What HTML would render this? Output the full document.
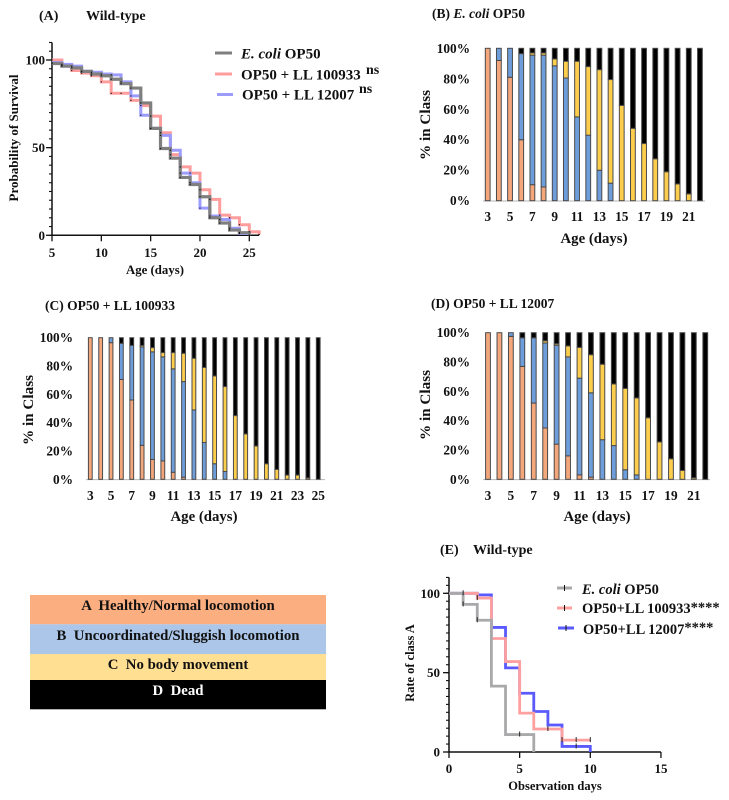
<!DOCTYPE html>
<html>
<head>
<meta charset="utf-8">
<title>C. elegans survival and locomotion class charts</title>
<style>
html,body{margin:0;padding:0;background:#fff;}
svg{display:block;filter:blur(0.35px);}
text{font-family:"Liberation Serif",serif;font-weight:bold;fill:#111;}
</style>
</head>
<body>
<svg id="figure" xmlns="http://www.w3.org/2000/svg" width="729" height="800" viewBox="0 0 729 800">
  <rect width="729" height="800" fill="#fff"/>

  <text x="39" y="20" font-size="14">(A)</text>
  <text x="86" y="20" font-size="14">Wild-type</text>
  <text x="432" y="18" font-size="13.500">(B) <tspan font-style="italic">E. coli</tspan> OP50</text>
  <text x="45" y="310" font-size="13.500">(C) OP50 + LL 100933</text>
  <text x="431" y="308" font-size="13.500">(D) OP50 + LL 12007</text>
  <text x="440" y="554" font-size="14">(E)</text>
  <text x="473" y="554" font-size="14">Wild-type</text>

  <text transform="translate(18,138) rotate(-90)" text-anchor="middle" font-size="13">Probability of Survival</text>
  <text x="155" y="274" text-anchor="middle" font-size="12.800">Age (days)</text>
  <text transform="translate(430,125) rotate(-90)" text-anchor="middle" font-size="15.200">% in Class</text>
  <text x="594" y="243" text-anchor="middle" font-size="14.800">Age (days)</text>
  <text transform="translate(33,410) rotate(-90)" text-anchor="middle" font-size="15.200">% in Class</text>
  <text x="204" y="521" text-anchor="middle" font-size="14.800">Age (days)</text>
  <text transform="translate(430,405) rotate(-90)" text-anchor="middle" font-size="15.200">% in Class</text>
  <text x="597" y="521" text-anchor="middle" font-size="14.800">Age (days)</text>
  <text transform="translate(414,663) rotate(-90)" text-anchor="middle" font-size="12.400">Rate of class A</text>
  <text x="555" y="790" text-anchor="middle" font-size="12.500">Observation days</text>

  <g>
    <line x1="215" x2="232" y1="53" y2="53" stroke="#7f7f7f" stroke-width="3"/>
    <text x="241" y="58.500" font-size="15"><tspan font-style="italic">E. coli</tspan> OP50</text>
    <line x1="215" x2="232" y1="74" y2="74" stroke="#ff9d9d" stroke-width="3"/>
    <text x="241" y="79.500" font-size="15">OP50 + LL 100933</text>
    <text x="366" y="74" font-size="14">ns</text>
    <line x1="217" x2="233" y1="94.500" y2="94.500" stroke="#9c9cff" stroke-width="3"/>
    <text x="242" y="99.500" font-size="15">OP50 + LL 12007</text>
    <text x="359" y="93" font-size="14">ns</text>
  </g>

  <g>
    <line x1="557" x2="572" y1="588" y2="588" stroke="#a9a9ab" stroke-width="3"/>
    <line x1="564.500" x2="564.500" y1="585" y2="591" stroke="#111" stroke-width="1"/>
    <text x="582" y="594" font-size="14.500"><tspan font-style="italic">E. coli</tspan> OP50</text>
    <line x1="557" x2="572" y1="608" y2="608" stroke="#ffa0a0" stroke-width="3"/>
    <line x1="564.500" x2="564.500" y1="605" y2="611" stroke="#111" stroke-width="1"/>
    <text x="582" y="613" font-size="14.500">OP50+LL 100933<tspan dy="-1">****</tspan></text>
    <line x1="558" x2="574" y1="628" y2="628" stroke="#5a5aff" stroke-width="3"/>
    <line x1="566" x2="566" y1="625" y2="631" stroke="#111" stroke-width="1"/>
    <text x="583" y="634" font-size="14.500">OP50+LL 12007<tspan dy="-2">****</tspan></text>
  </g>

  <g>
    <rect x="30" y="595" width="296" height="29.300" fill="#fbae80"/>
    <rect x="30" y="624.300" width="296" height="29.700" fill="#abc6e8"/>
    <rect x="30" y="654" width="296" height="26" fill="#ffdf91"/>
    <rect x="30" y="680" width="296" height="29.300" fill="#000"/>
    <text x="178" y="610" text-anchor="middle" font-size="14.800" xml:space="preserve">A  Healthy/Normal locomotion</text>
    <text x="178" y="640" text-anchor="middle" font-size="14.800" xml:space="preserve">B  Uncoordinated/Sluggish locomotion</text>
    <text x="178" y="669" text-anchor="middle" font-size="14.800" xml:space="preserve">C  No body movement</text>
    <text x="178" y="695" text-anchor="middle" font-size="14.800" style="fill:#fff" xml:space="preserve">D  Dead</text>
  </g>
</svg>

<script>
// Panel A survival data
const survivalDaysEcoli = [5,6,7,8,9,10,11,12,13,14,15,16,17,18,19,20,21,22,23,24,25];
const survivalEcoli = [98,96.5,95.5,93.5,92,91,89,86.5,84,75.5,61,49.5,44,33,29,22,10,7,3,1.5,0];
const survivalDays100933 = [5,6,7,8,9,10,11,12,13,14,15,16,17,18,19,20,21,22,23,24,25,26];
const survival100933 = [100,97,94,92.5,91,87.5,81,81,77,74,68,58.5,46,39,35.5,26,20.5,11.5,10,6,2,0.5];
const survivalDays12007 = [5,6,7,8,9,10,11,12,13,14,15,16,17,18,19,20,21,22,23,24,25];
const survival12007 = [98.5,97.5,96.5,93.5,93,92,91.5,87.5,79.5,68.5,61,57,48.5,35.5,30,15.5,11,9,4,1,0];
const survivalXTicks = [5,10,15,20,25];
const survivalYTicks = [0,50,100];

// Panel B stacked classes, days 3-22
const bDays = [3,4,5,6,7,8,9,10,11,12,13,14,15,16,17,18,19,20,21,22];
const bClassA = [100,92,81,40,10.5,9,0,0,0,0,0,0,0,0,0,0,0,0,0,0];
const bClassB = [0,8,19,56.5,85,86.5,88.5,80.5,55,43,20,11.5,0,0,0,0,0,0,0,0];
const bClassC = [0,0,0,0,1.5,1.5,4.5,11,36.5,45,66,68,62.5,47.5,37.5,27.5,19,11,4.5,0];
const bClassD = [0,0,0,3.5,3,3,7,8.5,8.5,12,14,20.5,37.5,52.5,62.5,72.5,81,89,95.5,100];

// Panel C stacked classes, days 3-25
const cDays = [3,4,5,6,7,8,9,10,11,12,13,14,15,16,17,18,19,20,21,22,23,24,25];
const cClassA = [100,100,96.5,70.5,56,24,14,13,5,1.5,0,0,0,0,0,0,0,0,0,0,0,0,0];
const cClassB = [0,0,3.5,25.5,38.5,69.5,76,73.5,73,67.5,49,26,11,5.5,0,0,0,0,0,0,0,0,0];
const cClassC = [0,0,0,0,0,1,3,3,11.5,20,36.5,53,62,60,45,32,23.5,11,7,3,3,1,0];
const cClassD = [0,0,0,4,5.5,5.5,7,10.5,10.5,11,14.5,21,27,34.5,55,68,76.5,89,93,97,97,99,100];

// Panel D stacked classes, days 3-22
const dDays = [3,4,5,6,7,8,9,10,11,12,13,14,15,16,17,18,19,20,21,22];
const dClassA = [100,100,97.5,77,52,35,24,16,3,1.5,0,0,0,0,0,0,0,0,0,0];
const dClassB = [0,0,2.5,19.5,44.5,58,67.5,67.5,66,57.5,27,23,6.5,3,0,0,0,0,0,0];
const dClassC = [0,0,0,0,0,1.5,1,7.5,21,26,51.5,42,55.5,52.5,42,25.5,14,6,1,0];
const dClassD = [0,0,0,3.5,3.5,5.5,7.5,9,10,15,21.5,35,38,44.5,58,74.5,86,94,99,100];

const percentTicks = [0,20,40,60,80,100];

// Panel E rate of class A
const rateDaysEcoli = [0,1,2,3,4,5,6];
const rateEcoli = [100,93,83,41.5,11,11,0];
const rateDays100933 = [0,1,2,3,4,5,6,7,8,9,10];
const rate100933 = [100,100,97,71.5,57,24.5,14.5,14.5,7.5,7.5,7.5];
const rateDays12007 = [0,1,2,3,4,5,6,7,8,9,10];
const rate12007 = [100,100,99,78.5,53,37,25.5,17,3.5,3.5,0];
const censorDaysEcoli = [1,1,2,5];
const censorValuesEcoli = [100,93,83,11];
const censorDays100933 = [2,7,8,9,10];
const censorValues100933 = [97,14.5,7.5,7.5,7.5];
const censorDays12007 = [9];
const censorValues12007 = [3.5];
const rateXTicks = [0,5,10,15];
const rateYTicks = [0,50,100];

const SVG_NS = 'http://www.w3.org/2000/svg';
const fig = document.getElementById('figure');

function makeEl(tag, parent) {
  const el = document.createElementNS(SVG_NS, tag);
  parent.appendChild(el);
  return el;
}
function drawLine(parent, name, x1, y1, x2, y2, color, width) {
  const el = makeEl('line', parent);
  
  
  el.setAttribute('x1', x1);
  el.setAttribute('y1', y1);
  el.setAttribute('x2', x2);
  el.setAttribute('y2', y2);
  el.setAttribute('stroke', color);
  el.setAttribute('stroke-width', width);
  return el;
}
function drawLabel(parent, name, x, y, str, anchor, size) {
  const el = makeEl('text', parent);
  
  
  el.setAttribute('x', x);
  el.setAttribute('y', y);
  el.setAttribute('text-anchor', anchor);
  el.setAttribute('font-size', size);
  el.textContent = str;
  return el;
}
function makeGroup(name) {
  const g = makeEl('g', fig);
  
  
  return g;
}
function drawStep(parent, name, days, values, sx, sy, color, width) {
  let d = '';
  days.forEach(function (day, i) {
    const x = sx(day), y = sy(values[i]);
    if (i === 0) {
      d += 'M' + x + ' ' + y;
    } else {
      d += 'L' + x + ' ' + sy(values[i - 1]) + 'L' + x + ' ' + y;
    }
    if (i < days.length - 1) {
      d += 'L' + sx(days[i + 1]) + ' ' + y;
    }
  });
  const el = makeEl('path', parent);
  
  
  el.setAttribute('d', d);
  el.setAttribute('fill', 'none');
  el.setAttribute('stroke', color);
  el.setAttribute('stroke-width', width);
  return el;
}
function drawAxes(parent, opt) {
  const sx = opt.sx, sy = opt.sy;
  drawLine(parent, 'x-axis-line', sx(opt.xMin) - 0.75, sy(0), sx(opt.xMax), sy(0), '#111', 1.5);
  drawLine(parent, 'y-axis-line', sx(opt.xMin), sy(0), sx(opt.xMin), sy(opt.yMax), '#111', 1.5);
  opt.xTicks.forEach(function (t) {
    drawLine(parent, 'x-tick', sx(t), sy(0), sx(t), sy(0) + 6, '#111', 1.3);
    drawLabel(parent, 'x-tick-label', sx(t), opt.xLabelY, String(t), 'middle', 13);
  });
  for (let v = 0; v <= opt.yMax; v += opt.yMinorStep) {
    drawLine(parent, 'y-minor-tick', sx(opt.xMin) - 3, sy(v), sx(opt.xMin), sy(v), '#111', 1.1);
  }
  opt.yTicks.forEach(function (t) {
    drawLine(parent, 'y-tick', sx(opt.xMin) - 6, sy(t), sx(opt.xMin), sy(t), '#111', 1.3);
    drawLabel(parent, 'y-tick-label', opt.yLabelX, sy(t) + 4.5, String(t), 'end', 13);
  });
}

// Panel A
(function () {
  const g = makeGroup('survival-chart');
  const sx = function (v) { return 52 + (v - 5) * 9.865; };
  const sy = function (v) { return 235.3 - v * 1.753; };
  drawAxes(g, { sx: sx, sy: sy, xMin: 5, xMax: 26, yMax: 110, yMinorStep: 5,
    xTicks: survivalXTicks, yTicks: survivalYTicks, xLabelY: 257, yLabelX: 45 });
  drawStep(g, 'series-op50-ll-100933', survivalDays100933, survival100933, sx, sy, '#ff9d9d', 3);
  drawStep(g, 'series-op50-ll-12007', survivalDays12007, survival12007, sx, sy, '#9c9cff', 3);
  drawStep(g, 'series-ecoli-op50', survivalDaysEcoli, survivalEcoli, sx, sy, '#7f7f7f', 3.2);
  [[survivalDays100933, survival100933], [survivalDays12007, survival12007], [survivalDaysEcoli, survivalEcoli]].forEach(function (s) {
    s[0].forEach(function (day, i) {
      const dot = makeEl('rect', g);
      
      
      dot.setAttribute('x', sx(day) - 0.6);
      dot.setAttribute('y', sy(s[1][i]) - 0.6);
      dot.setAttribute('width', 1.2);
      dot.setAttribute('height', 1.2);
      dot.setAttribute('fill', '#111');
    });
  });
})();

// Panels B, C, D
function drawStack(name, days, classes, left, step, barW, top, bottom, baseL, baseR, labelRight, labelY) {
  const g = makeGroup(name);
  const sx = function (d) { return left + (d - days[0]) * step; };
  const sy = function (v) { return bottom - v * (bottom - top) / 100; };
  const colors = ['#f5a77c', '#6d9edb', '#fdcd4c', '#000'];
  const classNames = ['class-a', 'class-b', 'class-c', 'class-d'];
  drawLine(g, 'x-axis-line', baseL, bottom + 0.3, baseR, bottom + 0.3, '#b5b5b5', 1);
  days.forEach(function (day, i) {
    let acc = 0;
    classes.forEach(function (series, c) {
      const v = series[i];
      if (v <= 0) return;
      const r = makeEl('rect', g);
      
      
      r.setAttribute('x', sx(day) - barW / 2);
      r.setAttribute('y', sy(acc + v));
      r.setAttribute('width', barW);
      r.setAttribute('height', sy(acc) - sy(acc + v));
      r.setAttribute('fill', colors[c]);
      r.setAttribute('stroke', '#4a4a4a');
      r.setAttribute('stroke-width', 1);
      acc += v;
    });
    if ((day - days[0]) % 2 === 0) {
      drawLabel(g, 'x-tick-label', sx(day), labelY, String(day), 'middle', 13.3);
    }
  });
  percentTicks.forEach(function (t) {
    drawLabel(g, 'y-tick-label', labelRight, sy(t) + 4.5, t + '%', 'end', 13.3);
  });
}
drawStack('stacked-chart-ecoli', bDays, [bClassA, bClassB, bClassC, bClassD], 487.7, 11.17, 4.8, 48.3, 200.7, 483, 705, 470, 221);
drawStack('stacked-chart-100933', cDays, [cClassA, cClassB, cClassC, cClassD], 90.3, 10.36, 3.8, 337.7, 479.3, 86, 325, 73, 500);
drawStack('stacked-chart-12007', dDays, [dClassA, dClassB, dClassC, dClassD], 488, 11.435, 4.8, 332.7, 479.3, 483, 710, 470, 500);

// Panel E
(function () {
  const g = makeGroup('rate-chart');
  const sx = function (v) { return 449 + v * 14.13; };
  const sy = function (v) { return 752 - v * 1.587; };
  drawAxes(g, { sx: sx, sy: sy, xMin: 0, xMax: 15, yMax: 110, yMinorStep: 5,
    xTicks: rateXTicks, yTicks: rateYTicks, xLabelY: 773, yLabelX: 440 });
  drawStep(g, 'series-op50-ll-12007', rateDays12007, rate12007, sx, sy, '#5a5aff', 2.8);
  drawStep(g, 'series-op50-ll-100933', rateDays100933, rate100933, sx, sy, '#ffa0a0', 2.8);
  drawStep(g, 'series-ecoli-op50', rateDaysEcoli, rateEcoli, sx, sy, '#a9a9ab', 2.8);
  [[censorDaysEcoli, censorValuesEcoli], [censorDays100933, censorValues100933], [censorDays12007, censorValues12007]].forEach(function (s) {
    s[0].forEach(function (day, i) {
      drawLine(g, 'censor-tick', sx(day), sy(s[1][i]) - 3, sx(day), sy(s[1][i]) + 2, '#222', 1);
    });
  });
})();
</script>
</body>
</html>
